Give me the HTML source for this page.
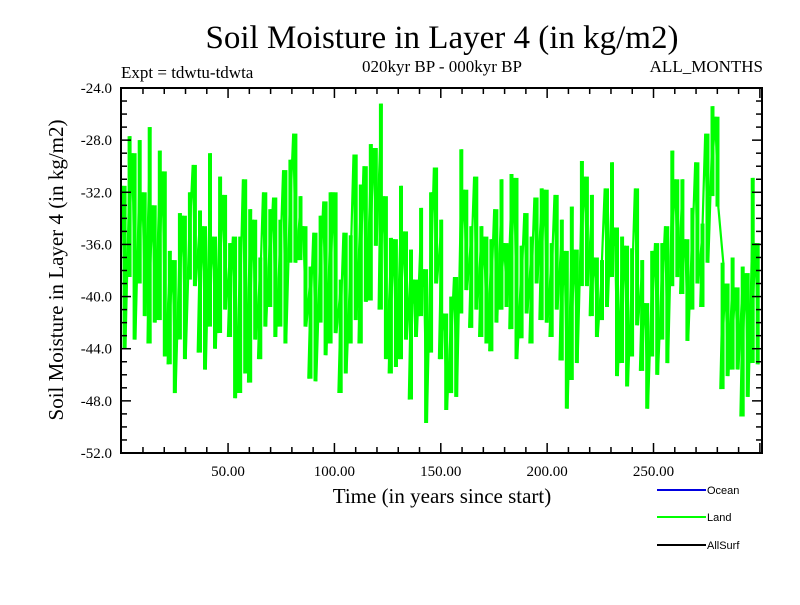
<!DOCTYPE html>
<html><head><meta charset="utf-8"><style>
body{margin:0;background:#fff}
svg text{font-family:"Liberation Serif",serif}
</style></head><body>
<svg id="chart" width="800" height="600" xmlns="http://www.w3.org/2000/svg">
<rect width="800" height="600" fill="#fff"/>
<text x="442" y="48" font-size="33" text-anchor="middle">Soil Moisture in Layer 4 (in kg/m2)</text>
<text x="121" y="78" font-size="17">Expt = tdwtu-tdwta</text>
<text x="442" y="72" font-size="17" text-anchor="middle">020kyr BP - 000kyr BP</text>
<text x="763" y="72" font-size="17" text-anchor="end">ALL_MONTHS</text>
<g id="plot"></g>
<g id="axes"></g>
<text x="442" y="503" font-size="21" text-anchor="middle">Time (in years since start)</text>
<text transform="translate(63,270) rotate(-90)" font-size="21" text-anchor="middle">Soil Moisture in Layer 4 (in kg/m2)</text>
<g>
<line x1="657" y1="490" x2="706" y2="490" stroke="#0000e0" stroke-width="2"/>
<text x="707" y="494" font-size="11" style="font-family:'Liberation Sans',sans-serif">Ocean</text>
<line x1="657" y1="517" x2="706" y2="517" stroke="#00ff00" stroke-width="2"/>
<text x="707" y="521" font-size="11" style="font-family:'Liberation Sans',sans-serif">Land</text>
<line x1="657" y1="545" x2="706" y2="545" stroke="#000" stroke-width="2"/>
<text x="707" y="549" font-size="11" style="font-family:'Liberation Sans',sans-serif">AllSurf</text>
</g>
</svg>
<script>
const highs = [-31.5,-27.7,-29,-28,-32,-27,-33,-28.8,-30.4,-36.5,-37.2,-33.6,-33.8,-32,-29.9,-33.4,-34.6,-29,-35.4,-30.8,-32.2,-35.9,-35.4,-35.4,-31,-33.3,-34.1,-37,-32,-33.3,-32.4,-34.1,-30.3,-29.5,-27.5,-32.3,-34.6,-37.7,-35.1,-33.8,-32.7,-32,
-32,-38.7,-35.1,-35.3,-29.1,-31.4,-30,-28.3,-28.6,-25.2,-32.3,-35.5,-35.6,-31.5,-35,-36.4,-38.7,-33.2,-37.9,-32,-30.1,-34.1,-41.3,-40,-38.5,-28.7,-31.8,-34.6,-30.8,-34.6,-35.4,-35.6,-33.3,-31,-35.9,-30.6,-30.9,-36.1,-33.6,-35.4,-32.4,-31.7,-31.8,-35.9,
-32.2,-34.1,-36.5,-33.1,-36.4,-29.6,-30.8,-32.2,-37,-37.2,-31.7,-29.7,-34.7,-35.4,-36.1,-36.3,-31.7,-37.2,-40.5,-36.5,-35.9,-35.9,-34.6,-28.8,-31,-31,-35.6,-33.2,-29.7,-34.4,-27.5,-25.4,-26.2,-37.4,-39,-37,-39.3,-37.7,-38.2,-30.9,-35.9];
const lows = [-44,-38.5,-43.3,-39,-41.5,-43.6,-42,-41.8,-44.6,-45.2,-47.4,-43.3,-44.8,-38.7,-39.2,-44.3,-45.6,-42.3,-44,-42.8,-41,-43.1,-47.8,-47.4,-45.9,-46.6,-43.3,-44.8,-42.3,-40.8,-43.1,-42.3,-43.6,-37.4,-37.4,-37.2,-42.3,-46.3,-46.5,-42,-44.5,-43.6,
-42.8,-47.4,-45.9,-43.6,-41.8,-43.6,-40.4,-40.3,-36.1,-41,-44.8,-45.9,-45.4,-44.8,-43.3,-47.9,-43.1,-41.5,-49.7,-44.3,-39,-44.8,-48.7,-47.4,-47.7,-41.3,-39.5,-42.4,-41,-43.1,-43.6,-44.2,-42,-41,-40.8,-42.5,-44.8,-43.2,-41.3,-43.6,-39,-41.8,-42,-43.1,
-41,-44.9,-48.6,-46.4,-45.1,-39.2,-39.2,-41.5,-43.1,-41.8,-40.8,-38.5,-46.1,-45.1,-46.9,-44.6,-42.2,-45.7,-48.6,-44.6,-46,-43.3,-45.1,-39.2,-38.5,-39.8,-43.4,-41,-39,-40.8,-37.4,-32.3,-33.1,-47.1,-46.1,-45.6,-45.6,-49.2,-47.7,-45.1,-45.2];
const yTicks = ["-24.0","-28.0","-32.0","-36.0","-40.0","-44.0","-48.0","-52.0"];
const xTicks = ["50.00","100.00","150.00","200.00","250.00"];
const X0=121.7,X1=762,Y0=88,Y1=453,TMIN=0,TMAX=301,VMAX=-24,VMIN=-52;
function xs(t){return X0+(t-TMIN)/(TMAX-TMIN)*(X1-X0);}
function ys(v){return Y0+(VMAX-v)/(VMAX-VMIN)*(Y1-Y0);}
const NS="http://www.w3.org/2000/svg";
function mk(tag,attrs,parent){const e=document.createElementNS(NS,tag);for(const k in attrs)e.setAttribute(k,attrs[k]);parent.appendChild(e);return e;}
const plot=document.getElementById('plot'),axes=document.getElementById('axes');
const N=highs.length,step=300/N;
let d="";
for(let i=0;i<N;i++){
  const t=i*step+0.3;
  const hiT=(i%2===0)?t:t+step*0.6, loT=(i%2===0)?t+step*0.6:t;
  const r=mk('rect',{x:xs(t+step*0.05).toFixed(1),y:ys(highs[i]).toFixed(1),width:(xs(step*0.8)-xs(0)).toFixed(1),height:(ys(lows[i])-ys(highs[i])).toFixed(1),fill:'#00ff00'},plot);
  
  
  d+=(i?"L":"M")+xs(hiT).toFixed(1)+","+ys(highs[i]).toFixed(1);
  d+="L"+xs(loT).toFixed(1)+","+ys(lows[i]).toFixed(1);
}
const line=mk('path',{d:d,fill:'none',stroke:'#00ff00','stroke-width':2.2},plot);


const frame=mk('rect',{x:121,y:88,width:641,height:365,fill:'none',stroke:'#000','stroke-width':2},axes);


for(let v=-24;v>=-52;v-=1){
  const y=ys(v),major=(v%4===0),L=major?10:6;
  mk('line',{x1:121,y1:y,x2:121+L,y2:y,stroke:'#000','stroke-width':1.5},axes);
  mk('line',{x1:762,y1:y,x2:762-L,y2:y,stroke:'#000','stroke-width':1.5},axes);
}
yTicks.forEach(s=>{
  const el=mk('text',{x:112,y:ys(parseFloat(s))+5,'font-size':15,'text-anchor':'end'},axes);
  el.textContent=s;
  
  
});
for(let t=10;t<=300;t+=10){
  const x=xs(t),major=(t%50===0),L=major?10:6;
  mk('line',{x1:x,y1:453,x2:x,y2:453-L,stroke:'#000','stroke-width':1.5},axes);
  mk('line',{x1:x,y1:88,x2:x,y2:88+L,stroke:'#000','stroke-width':1.5},axes);
}
xTicks.forEach(s=>{
  const el=mk('text',{x:xs(parseFloat(s)),y:476,'font-size':15,'text-anchor':'middle'},axes);
  el.textContent=s;
  
  
});
</script>
</body></html>
